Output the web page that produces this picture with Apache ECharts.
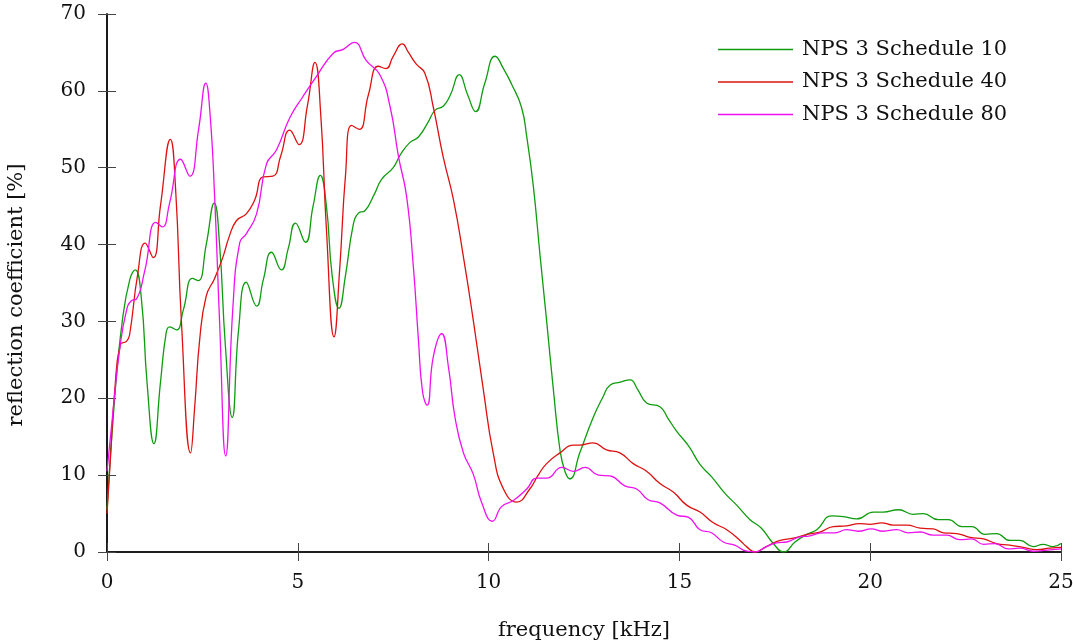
<!DOCTYPE html>
<html>
<head>
<meta charset="utf-8">
<script src="https://cdn.jsdelivr.net/npm/echarts@6/dist/echarts.min.js"></script>
<style>
html,body{margin:0;padding:0;background:#fff;}
#chart{width:1073px;height:643px;}
</style>
</head>
<body>
<div id="chart"></div>
<script>
const seriesNames = ['NPS 3 Schedule 10', 'NPS 3 Schedule 40', 'NPS 3 Schedule 80'];
const xTicks = [0, 5, 10, 15, 20, 25];
const yTicks = [0, 10, 20, 30, 40, 50, 60, 70];

const freq10 = [0,0.2,0.4,0.6,0.74,0.9,1.05,1.23,1.4,1.55,1.64,1.82,2.0,2.24,2.39,2.6,2.81,2.95,3.1,3.28,3.45,3.65,3.92,4.1,4.31,4.57,4.75,4.94,5.2,5.4,5.59,5.75,5.9,6.08,6.25,6.45,6.59,6.76,7.0,7.2,7.5,7.7,7.94,8.16,8.4,8.6,8.81,9.0,9.23,9.45,9.66,9.9,10.17,10.4,10.6,10.86,11.0,11.17,11.35,11.52,11.7,11.87,12.0,12.13,12.39,12.74,13.0,13.18,13.45,13.71,13.9,14.14,14.49,14.7,14.93,15.24,15.54,15.84,16.2,16.5,16.85,17.15,17.46,17.74,18.03,18.34,18.6,18.99,19.3,19.65,20.08,20.34,20.74,21.13,21.39,21.79,22.05,22.4,22.66,23.01,23.31,23.66,23.92,24.27,24.53,24.79,25];
const refl10 = [5.5,20,30,35.5,36.7,33,22,14.1,22,28.5,29.3,28.9,31.5,35.6,35.3,40,45.4,40,27,17.5,29,35.1,32.0,35.5,39.0,36.7,39.5,42.8,40.3,45,49.0,45,36,31.7,36,42.5,44.1,44.4,46.5,48.5,50.0,51.8,53.3,54.0,55.8,57.5,58.0,59.5,62.1,59.5,57.3,61,64.5,62.8,60.9,57.9,54,47.7,38.5,30.1,21,13.3,10.5,9.5,12.9,17.5,20.2,21.7,22.1,22.4,21.2,19.4,18.9,17.4,15.7,13.8,11.4,9.8,7.6,6.1,4.2,3.1,1.1,0.0,1.3,2.3,2.9,4.7,4.6,4.3,5.2,5.2,5.5,4.9,5.0,4.2,4.2,3.3,3.3,2.3,2.4,1.5,1.5,0.7,1.0,0.7,1.1];

const freq40 = [0,0.1,0.2,0.35,0.51,0.59,0.8,1.0,1.21,1.4,1.66,1.8,1.95,2.19,2.3,2.43,2.6,2.82,3.04,3.2,3.39,3.65,3.87,4.09,4.35,4.55,4.79,5.03,5.25,5.45,5.6,5.75,5.95,6.1,6.25,6.41,6.61,6.85,7.11,7.31,7.5,7.74,7.9,8.1,8.33,8.55,8.81,9.08,9.34,9.6,9.86,10.12,10.39,10.74,11.08,11.3,11.52,11.87,12.22,12.39,12.74,13.09,13.44,13.79,14.14,14.49,14.84,15.19,15.54,15.89,16.24,16.59,16.76,16.98,17.28,17.64,17.99,18.34,18.68,19.03,19.38,19.72,19.99,20.3,20.6,20.96,21.31,21.65,21.92,22.27,22.62,22.97,23.31,23.66,24.01,24.36,24.71,25];
const refl40 = [5.0,13,20.8,27.0,27.4,28.2,36,40.2,38.3,45,53.7,47,30,12.9,19,27.7,33.3,35.6,38.4,41,43.1,44.0,45.8,48.8,48.9,51.5,54.9,53.0,58,63.7,57,42,28.0,37,49,55.5,55.0,59.5,63.2,62.9,64.5,66.1,65,63.5,62.3,57.9,51.4,45.8,38.4,30.1,21.2,12.9,8.2,6.5,8.2,10,11.5,12.9,13.9,13.9,14.2,13.3,12.9,11.5,10.5,8.9,7.8,6.1,5.2,3.8,2.9,1.5,0.7,0.0,0.7,1.5,1.8,2.3,2.6,3.3,3.4,3.7,3.6,3.8,3.5,3.5,3.1,3.0,2.5,2.4,1.9,1.7,1.1,0.9,0.6,0.3,0.5,0.6];

const freq80 = [0,0.16,0.33,0.51,0.64,0.77,0.99,1.28,1.45,1.64,1.93,2.17,2.4,2.59,2.7,2.82,2.95,3.11,3.3,3.48,3.65,3.92,4.18,4.44,4.79,5.14,5.49,5.93,6.19,6.48,6.8,7.15,7.42,7.64,7.85,8.03,8.16,8.27,8.39,8.55,8.77,8.95,9.12,9.34,9.6,9.82,10.1,10.34,10.65,11.0,11.26,11.52,11.92,12.22,12.53,12.88,13.18,13.57,13.88,14.18,14.49,14.93,15.24,15.54,15.84,16.15,16.45,16.76,16.98,17.28,17.55,17.81,18.11,18.42,18.77,19.08,19.38,19.69,20.03,20.34,20.69,21.0,21.31,21.65,22.0,22.35,22.66,22.97,23.27,23.62,23.92,24.27,24.57,25];
const refl80 = [10.5,18.4,26.3,31.4,32.7,32.9,36.6,42.9,42.3,45.4,51.1,48.9,55,61.0,57,46.3,30,12.5,31.9,40.3,41.4,44.0,50.5,52.3,56.5,59.3,61.9,64.9,65.4,66.3,63.9,62.1,57.9,51.4,46.3,37.0,27.7,20.8,19.1,25.4,28.4,24.0,17.5,12.9,10.1,6.4,4.0,5.9,6.7,8.2,9.6,9.6,11.0,10.5,11.0,10.0,9.9,8.6,8.2,6.8,6.4,4.8,4.5,2.9,2.5,1.3,0.9,0.1,0,0.7,1.2,1.3,1.9,2.1,2.5,2.5,2.9,2.7,3.0,2.7,2.9,2.5,2.6,2.2,2.2,1.6,1.7,1.0,1.1,0.4,0.5,0.1,0.2,0.4];

const colors = ['#0f9c0f', '#dd1111', '#ee11ee'];
const FONT = 'DejaVu Serif';

function zip(xs, ys) { return xs.map((x, i) => [x, ys[i]]); }

const chart = echarts.init(document.getElementById('chart'), null, {renderer: 'canvas'});

const xMin = xTicks[0], xMax = xTicks[xTicks.length - 1], xInt = xTicks[1] - xTicks[0];
const yMin = yTicks[0], yMax = yTicks[yTicks.length - 1], yInt = yTicks[1] - yTicks[0];

const axisLine = {show: true, lineStyle: {color: '#111', width: 1.6}};
const axisTick = {show: true, inside: false, length: 9, lineStyle: {color: '#444', width: 1}};

chart.setOption({
  animation: false,
  backgroundColor: '#fff',
  grid: {left: 107, right: 12, top: 14, bottom: 91, containLabel: false, outerBoundsMode: 'none'},
  legend: {
    orient: 'vertical',
    left: 718,
    top: 39,
    padding: 0,
    itemWidth: 75,
    itemHeight: 14,
    itemGap: 11.5,
    icon: 'path://M0,0H100V1.8H0Z',
    data: seriesNames,
    textStyle: {fontFamily: FONT, fontSize: 21, color: '#111', lineHeight: 21, padding: [0, 0, 0, 4]}
  },
  xAxis: [
    {
      type: 'value', min: xMin, max: xMax, interval: xInt,
      name: 'frequency [kHz]', nameLocation: 'middle', nameGap: 68,
      nameTextStyle: {fontFamily: FONT, fontSize: 21, color: '#111'},
      axisLine: axisLine, axisTick: axisTick, splitLine: {show: false},
      axisLabel: {fontFamily: FONT, fontSize: 20, color: '#111', margin: 21}
    },
    {
      type: 'value', min: xMin, max: xMax, interval: xInt, position: 'top',
      axisLine: axisLine, axisTick: axisTick, splitLine: {show: false},
      axisLabel: {show: false}
    }
  ],
  yAxis: [
    {
      type: 'value', min: yMin, max: yMax, interval: yInt,
      name: 'reflection coefficient [%]', nameLocation: 'middle', nameGap: 80,
      nameTextStyle: {fontFamily: FONT, fontSize: 21, color: '#111', padding: [0, 24, 0, 0]},
      axisLine: axisLine, axisTick: axisTick, splitLine: {show: false},
      axisLabel: {fontFamily: FONT, fontSize: 20, color: '#111', margin: 21}
    },
    {
      type: 'value', min: yMin, max: yMax, interval: yInt, position: 'right',
      axisLine: axisLine, axisTick: axisTick, splitLine: {show: false},
      axisLabel: {show: false}
    }
  ],
  series: [
    {name: seriesNames[0], data: zip(freq10, refl10)},
    {name: seriesNames[1], data: zip(freq40, refl40)},
    {name: seriesNames[2], data: zip(freq80, refl80)}
  ].map((s, i) => Object.assign({
    type: 'line',
    xAxisIndex: 0, yAxisIndex: 0,
    showSymbol: false, symbol: 'none',
    smooth: 0.5,
    clip: true,
    color: colors[i],
    lineStyle: {color: colors[i], width: 1.3}
  }, s))
});
</script>
</body>
</html>
